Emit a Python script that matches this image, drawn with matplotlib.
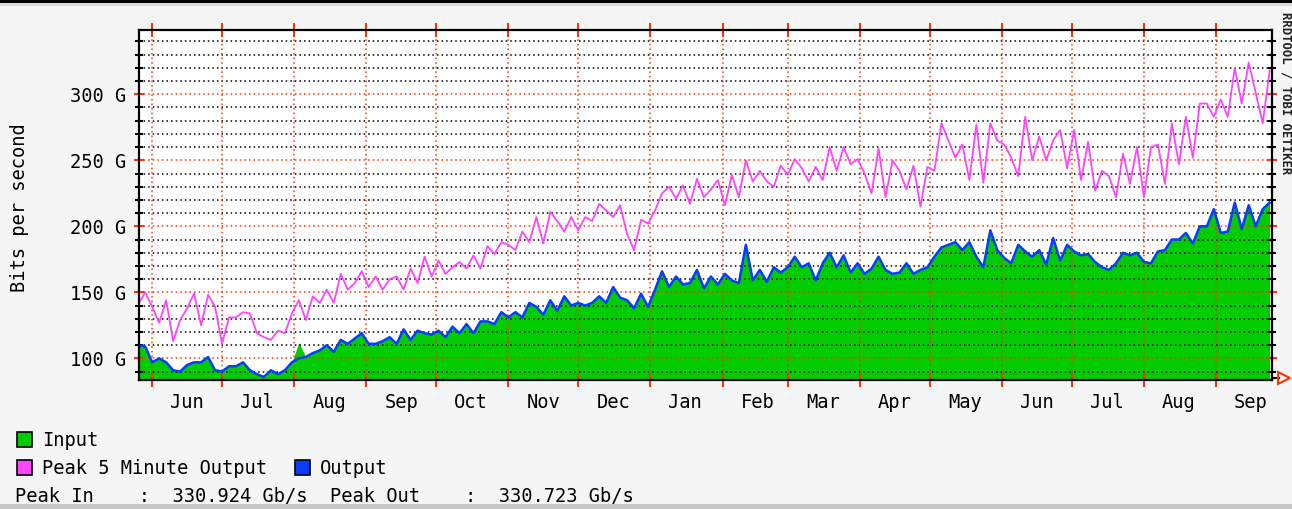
import matplotlib
matplotlib.use('Agg')
import matplotlib.pyplot as plt
from matplotlib.patches import Rectangle
import pandas as pd

# daily MRTG values, read every 3 days (Gb/s)
start = '2013-05-26'

peak_out = [141, 150, 139, 127, 144, 113, 129, 138, 149, 125, 148, 139, 111, 131, 131, 135, 134, 119, 116, 114,
            121, 119, 134, 144, 129, 147, 142, 152, 142, 164, 152, 157, 166, 154, 162, 152, 160, 162, 152, 168,
            157,
            177, 162, 174, 164, 169, 173, 168, 178, 168, 185, 179, 188, 186, 182, 196, 188, 207, 187, 211, 204,
            196, 207, 197, 207, 204, 217, 212, 207, 216, 194, 182, 205, 202, 212, 225, 230, 221, 231, 217, 236,
            222,
            228, 235, 216, 239, 222, 250, 234, 242, 234, 230, 246, 239, 251, 244, 234, 245, 235, 260, 242, 260,
            247, 251, 240, 225, 259, 222, 250, 242, 228, 246, 215, 245, 242, 278, 265, 252, 262, 235, 277, 233,
            278,
            265, 262, 252, 238, 283, 250, 268, 250, 265, 273, 244, 273, 235, 264, 227, 242, 238, 222, 255, 232,
            260, 222, 260, 262, 232, 278, 247, 283, 252, 293, 293, 283, 296, 283, 320, 293, 324, 301, 278, 318]

output_g = [110, 109, 97, 100, 97, 91, 90, 95, 97, 97, 101, 91, 90, 94, 94, 97, 91, 88, 86, 91,
            88, 91, 97, 100, 101, 104, 106, 110, 105, 114, 111, 115, 119, 111, 111, 113, 116, 111, 122, 114,
            121,
            119, 118, 121, 116, 124, 119, 126, 119, 128, 128, 126, 135, 131, 135, 131, 142, 139, 133, 144, 136,
            147, 140, 142, 140, 142, 147, 142, 154, 146, 144, 138, 149, 139, 152, 166, 154, 162, 156, 157, 167,
            153,
            162, 156, 164, 159, 157, 186, 159, 167, 158, 169, 165, 169, 177, 169, 172, 159, 172, 180, 169, 178,
            165, 172, 164, 168, 177, 167, 164, 165, 172, 164, 167, 169, 177, 184, 186, 188, 182, 188, 177, 169,
            197,
            182, 176, 172, 186, 181, 177, 182, 171, 191, 174, 186, 181, 178, 179, 173, 169, 167, 172, 180, 178,
            180, 173, 172, 181, 182, 190, 190, 195, 187, 200, 200, 213, 195, 196, 218, 198, 216, 200, 213, 218]

input_g = [110, 109, 97, 100, 97, 91, 90, 95, 97, 97, 101, 91, 90, 94, 94, 97, 91, 88, 86, 91,
           88, 91, 97, 112, 101, 104, 106, 110, 105, 114, 111, 115, 119, 111, 111, 113, 116, 111, 122, 114,
           121,
           119, 118, 121, 116, 124, 119, 126, 119, 128, 128, 126, 135, 131, 135, 131, 142, 139, 133, 144, 136,
           147, 140, 142, 140, 142, 147, 142, 154, 146, 144, 138, 149, 139, 152, 166, 154, 162, 156, 157, 167,
           153,
           162, 156, 164, 159, 157, 186, 159, 167, 158, 169, 165, 169, 177, 169, 172, 159, 172, 180, 169, 178,
           165, 172, 164, 168, 177, 167, 164, 165, 172, 164, 167, 169, 177, 184, 186, 188, 182, 188, 177, 169,
           197,
           182, 176, 172, 186, 181, 177, 182, 171, 191, 174, 186, 181, 178, 179, 173, 169, 167, 172, 180, 178,
           180, 173, 172, 181, 182, 190, 190, 195, 187, 200, 200, 213, 195, 196, 218, 198, 216, 200, 213, 218]

days = pd.date_range(start, periods=len(output_g), freq='3D')
month_starts = pd.date_range('2013-06-01', '2014-09-01', freq='MS')
month_mid = month_starts + pd.Timedelta(days=15)
month_labels = [d.strftime('%b') for d in month_starts]

y_major = [100, 150, 200, 250, 300]
y_labels = ['%d G' % v for v in y_major]
y_minor = list(range(90, 345, 10))

GREEN = '#00cc00'
BLUE = '#0a3cff'
PINK = '#ff44ff'
RED = '#ff3300'
FONT = 'DejaVu Sans Mono'
FS = 13.5

W, H = 1292, 509
fig = plt.figure(figsize=(W / 100, H / 100), dpi=100, facecolor='#f5f5f5')
ax = fig.add_axes([139 / W, 1 - 380 / H, (1272 - 139) / W, 350 / H])
ax.set_facecolor('white')
ymin, ymax = 83.6, 348.7

ax.fill_between(days, input_g, ymin, color=GREEN, lw=0, zorder=1)
ax.plot(days, output_g, color=BLUE, lw=1.8, zorder=4)
ax.plot(days, peak_out, color=PINK, lw=1.3, zorder=4)

# grid
for v in y_minor:
    col = RED if v % 50 == 0 else 'black'
    ax.axhline(v, color=col, lw=1.1, ls=(0, (1, 2)), zorder=2)
for d in month_starts:
    ax.axvline(d, color=RED, lw=1.1, ls=(0, (1, 2)), zorder=2)

ax.set_xlim(pd.Timestamp('2013-05-26 08:00'), pd.Timestamp('2014-09-25'))
ax.set_ylim(ymin, ymax)

ax.set_yticks(y_major)
ax.set_yticklabels(y_labels, family=FONT, fontsize=FS)
ax.set_yticks(y_minor, minor=True)
ax.tick_params(axis='y', which='major', color=RED, direction='inout', length=7, width=1.5,
               right=True, pad=6)
ax.tick_params(axis='y', which='minor', color='black', direction='inout', length=6, width=1.5,
               right=True)

ax.set_xticks(month_starts)
ax.set_xticklabels([])
ax.set_xticks(month_mid, minor=True)
ax.set_xticklabels(month_labels, minor=True, family=FONT, fontsize=FS)
ax.tick_params(axis='x', which='major', color=RED, direction='inout', length=10, width=1.5,
               top=True)
ax.tick_params(axis='x', which='minor', length=0, pad=9)

for s in ax.spines.values():
    s.set_linewidth(1.6)
    s.set_color('black')
    s.set_zorder(5)

# arrow at end of time axis
ax.plot([1.0, 1.006], [0.005, 0.005], color='black', lw=1.5, transform=ax.transAxes, clip_on=False)
ax.plot([1.011], [0.005], marker='>', ms=8, mfc='none', mec=RED, mew=1.5,
        transform=ax.transAxes, clip_on=False)

fig.text(20 / W, 1 - 208 / H, 'Bits per second', rotation=90, ha='center', va='center',
         family=FONT, fontsize=FS)
fig.text(1286 / W, 1 - 93 / H, 'RRDTOOL / TOBI OETIKER', rotation=270, ha='center', va='center',
         family=FONT, fontsize=8.8, weight='bold', color='#222222')

# legend
def square(x, y, color):
    fig.patches.append(Rectangle((x / W, 1 - (y + 15) / H), 15 / W, 15 / H, facecolor=color,
                                 edgecolor='black', lw=1.2, transform=fig.transFigure, figure=fig))

square(17, 432, GREEN)
fig.text(42 / W, 1 - 441 / H, 'Input', va='center', family=FONT, fontsize=FS)
square(17, 460, PINK)
fig.text(42 / W, 1 - 469 / H, 'Peak 5 Minute Output', va='center', family=FONT, fontsize=FS)
square(295, 460, BLUE)
fig.text(320 / W, 1 - 469 / H, 'Output', va='center', family=FONT, fontsize=FS)
fig.text(15 / W, 1 - 497 / H, 'Peak In    :  330.924 Gb/s  Peak Out    :  330.723 Gb/s',
         va='center', family=FONT, fontsize=FS)

# frame bars
fig.patches.append(Rectangle((0, 1 - 3 / H), 1, 3 / H, facecolor='black', lw=0,
                             transform=fig.transFigure, figure=fig, zorder=10))
fig.patches.append(Rectangle((0, 1 - 6 / H), 1, 3 / H, facecolor='#dcdcdc', lw=0,
                             transform=fig.transFigure, figure=fig, zorder=10))
fig.patches.append(Rectangle((0, 0), 1, 5 / H, facecolor='#c8c8c8', lw=0,
                             transform=fig.transFigure, figure=fig, zorder=10))

fig.savefig('out.png', dpi=100, facecolor=fig.get_facecolor())
